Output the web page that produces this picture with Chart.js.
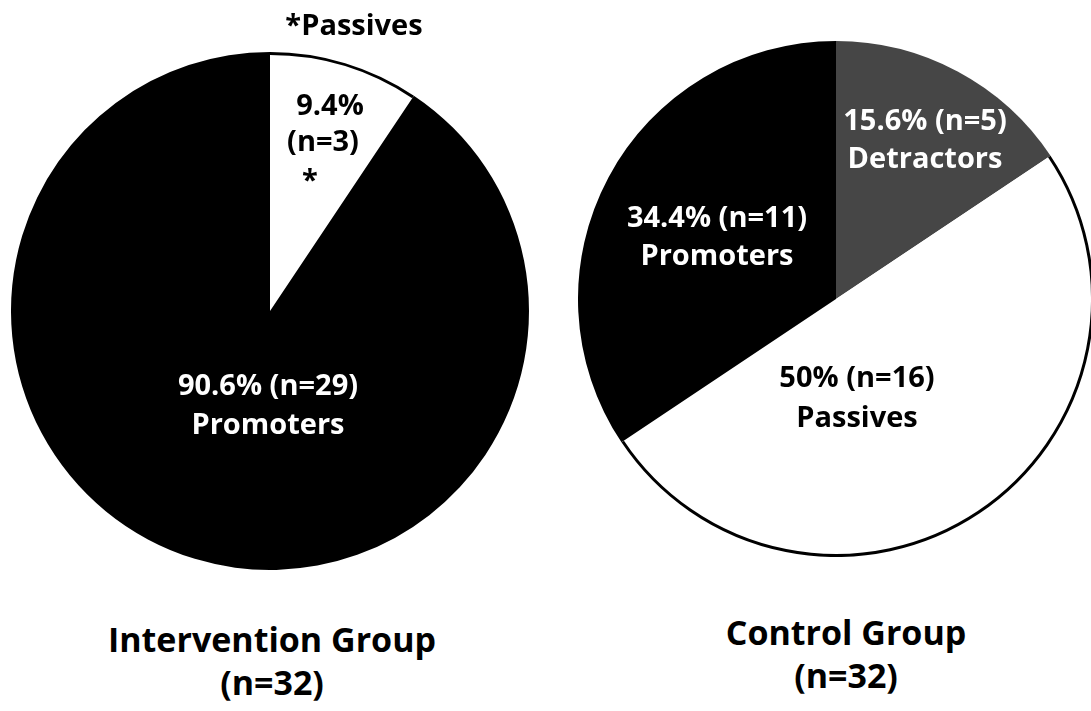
<!DOCTYPE html>
<html>
<head>
<meta charset="utf-8">
<script src="https://cdn.jsdelivr.net/npm/chart.js@4"></script>
<style>
    html, body { margin: 0; padding: 0; background: #fff; overflow: hidden; }
    body { width: 1091px; height: 711px; position: relative; font-family: 'Open Sans', sans-serif; }
    canvas { position: absolute; }
    .titulo { position: absolute; font-weight: 700; font-size: 34px; color: #000; text-align: center; line-height: 43px; white-space: nowrap; }
</style>
</head>
<body>
<canvas id="chart-intervencao" width="518" height="570" style="left:11px; top:0px;"></canvas>
<canvas id="chart-controle" width="516" height="516" style="left:578px; top:41px;"></canvas>
<div class="titulo" style="left:72px; width:400px; top:618px;">Intervention Group<br>(n=32)</div>
<div class="titulo" style="left:646px; width:400px; top:611px;">Control Group<br>(n=32)</div>

<script>
// Intervention group (n=32)
const catIntervencao = ['Passives', 'Promoters'];
const valIntervencao = [3, 29];
const corIntervencao = ['#ffffff', '#000000'];
const txtIntervencao = [
    ['9.4%', '(n=3)', '*'],
    ['90.6% (n=29)', 'Promoters']
];

// Control group (n=32)
const catControle = ['Detractors', 'Passives', 'Promoters'];
const valControle = [5, 16, 11];
const corControle = ['#464646', '#ffffff', '#000000'];
const txtControle = [
    ['15.6% (n=5)', 'Detractors'],
    ['50% (n=16)', 'Passives'],
    ['34.4% (n=11)', 'Promoters']
];

// label placement (offset of each baseline from pie centre)
const posIntervencao = [
    { dx: [60, 53, 40], dy: [-196, -160, -121], cor: '#000' },
    { dx: [-2, -2], dy: [84, 123], cor: '#fff' }
];
const posControle = [
    { dx: [89, 89], dy: [-169, -131], cor: '#fff' },
    { dx: [21, 21], dy: [88, 128], cor: '#000' },
    { dx: [-119, -119], dy: [-72, -34], cor: '#fff' }
];

const FONTE = "700 29px 'Open Sans'";

const rotulosPlugin = {
    id: 'rotulos',
    afterDatasetsDraw(chart, args, opts) {
        const ctx = chart.ctx;
        const arcs = chart.getDatasetMeta(0).data;
        ctx.save();

        // outline on the outer edge of white slices
        arcs.forEach((arc, i) => {
            if (chart.data.datasets[0].backgroundColor[i] !== '#ffffff') return;
            const p = arc.getProps(['x', 'y', 'startAngle', 'endAngle', 'outerRadius'], true);
            ctx.beginPath();
            ctx.arc(p.x, p.y, p.outerRadius - 1.5, p.startAngle, p.endAngle);
            ctx.lineWidth = 3;
            ctx.strokeStyle = '#000';
            ctx.stroke();
        });

        ctx.font = FONTE;
        ctx.textAlign = 'center';
        ctx.textBaseline = 'alphabetic';
        arcs.forEach((arc, i) => {
            const p = arc.getProps(['x', 'y'], true);
            const linhas = opts.textos[i];
            const pos = opts.pos[i];
            ctx.fillStyle = pos.cor;
            linhas.forEach((t, k) => {
                ctx.fillText(t, p.x + pos.dx[k], p.y + pos.dy[k]);
            });
        });

        // note above the pie
        if (opts.extra) {
            const p = arcs[0].getProps(['x', 'y'], true);
            ctx.fillStyle = '#000';
            ctx.fillText(opts.extra.texto, p.x + opts.extra.dx, p.y + opts.extra.dy);
        }
        ctx.restore();
    }
};

function criarPizza(id, labels, valores, cores, textos, pos, extra, padTopo) {
    const ctx = document.getElementById(id).getContext('2d');
    return new Chart(ctx, {
        type: 'pie',
        data: {
            labels: labels,
            datasets: [{
                data: valores,
                backgroundColor: cores,
                borderWidth: 0
            }]
        },
        options: {
            responsive: false,
            animation: false,
            layout: { padding: { top: padTopo, left: 0, right: 0, bottom: 0 } },
            plugins: {
                legend: { display: false },
                tooltip: { enabled: false },
                rotulos: { textos: textos, pos: pos, extra: extra }
            }
        },
        plugins: [rotulosPlugin]
    });
}

criarPizza('chart-intervencao', catIntervencao, valIntervencao, corIntervencao, txtIntervencao, posIntervencao,
    { texto: '*Passives', dx: 84, dy: -276 }, 52);
criarPizza('chart-controle', catControle, valControle, corControle, txtControle, posControle, null, 0);
</script>
</body>
</html>
